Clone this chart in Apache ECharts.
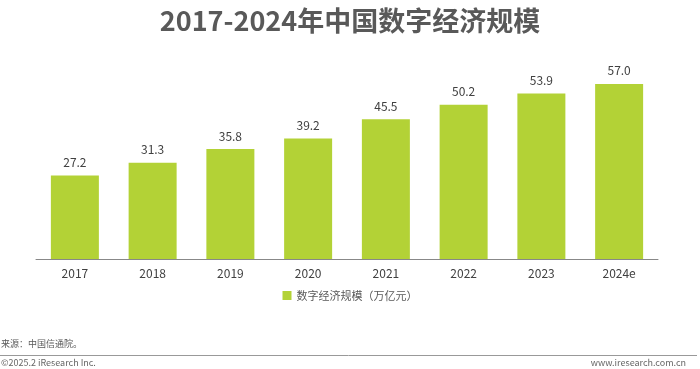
<!DOCTYPE html>
<html><head><meta charset="utf-8">
<script src="https://cdn.jsdelivr.net/npm/echarts@6/dist/echarts.min.js"></script>
<style>html,body{margin:0;padding:0;background:#fff}#c{width:700px;height:369px}</style>
</head><body><div id="c"></div>
<script>
const categories = ['2017','2018','2019','2020','2021','2022','2023','2024e'];
const values = [27.2, 31.3, 35.8, 39.2, 45.5, 50.2, 53.9, 57.0];
const seriesName = '数字经济规模（万亿元）';
const titleText = '2017-2024年中国数字经济规模';
const sourceText = '来源：中国信通院。';
const footerLeft = '©2025.2 iResearch Inc.';
const footerRight = 'www.iresearch.com.cn';

const chart = echarts.init(document.getElementById('c'), null, {renderer:'canvas'});
const font = '"Microsoft YaHei","Noto Sans CJK SC","Noto Sans",sans-serif';
chart.setOption({
  animation:false,
  textStyle:{fontFamily:font},
  title:{text:titleText,left:'center',top:2,textStyle:{fontSize:27,fontWeight:'bold',color:'#595959',fontFamily:font}},
  legend:{bottom:63,left:'center',itemWidth:9,itemHeight:9,icon:'rect',itemGap:6,
    textStyle:{fontSize:11,color:'#595959',fontFamily:font},data:[seriesName]},
  grid:{left:36,right:42,top:44,bottom:110},
  xAxis:{type:'category',data:categories,
    axisLine:{lineStyle:{color:'#888',width:1}},axisTick:{show:false},
    axisLabel:{fontSize:12,color:'#404040',margin:8}},
  yAxis:{type:'value',min:0,max:70,show:false,splitLine:{show:false}},
  series:[{name:seriesName,type:'bar',data:values,barWidth:48,
    itemStyle:{color:'#b3d236'},
    label:{show:true,position:'top',fontSize:12,color:'#404040',distance:7,
      formatter:p=>p.value.toFixed(1)}}],
  graphic:[
    {type:'text',left:1,top:339,style:{text:sourceText,fontSize:9,fill:'#595959',fontFamily:font}},
    {type:'line',shape:{x1:0,y1:355.5,x2:697,y2:355.5},style:{stroke:'#999',lineWidth:1}},
    {type:'text',left:1,top:358,style:{text:footerLeft,fontSize:9,fill:'#666',fontFamily:font}},
    {type:'text',right:14,top:358,style:{text:footerRight,fontSize:9,fill:'#666',fontFamily:font}}
  ]
});
</script></body></html>
